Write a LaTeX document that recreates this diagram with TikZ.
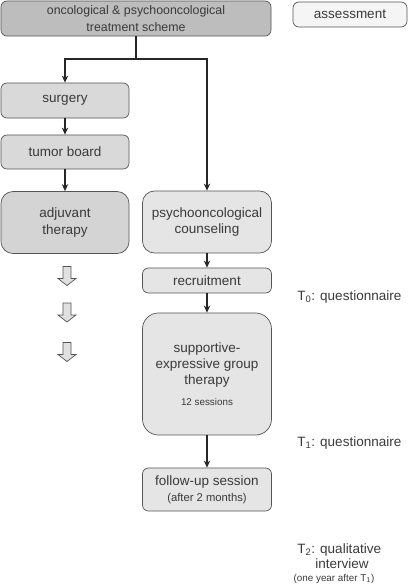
\documentclass[tikz,border=0pt]{standalone}
\usepackage{fontspec}
\setmainfont{Liberation Sans}
\usetikzlibrary{arrows.meta}
\definecolor{txt}{HTML}{3A3A3A}
\definecolor{edge}{HTML}{555555}
\tikzset{
  box/.style={draw=edge, line width=0.5pt, rounded corners=0.15cm, align=center,
    text=txt, font=\fontsize{9.6}{11.5}\selectfont, inner sep=0pt},
  flow/.style={-{Stealth[length=5pt,width=4.5pt]}, line width=0.9pt, draw=black!85},
  hollow/.pic={
    \draw[draw=edge, fill=black!12, line width=0.5pt]
      (-4,-9.5) -- (4,-9.5) -- (4,2.5) -- (9,2.5) -- (0,9.5) -- (-9,2.5) -- (-4,2.5) -- cycle;
  },
  tlabel/.style={anchor=west, text=txt, font=\fontsize{9.6}{11.5}\selectfont, inner sep=0pt}
}
\begin{document}
\begin{tikzpicture}[x=0.025cm, y=-0.025cm]
    \useasboundingbox (0,0) rectangle (408,586);

    % Cajas principales
    \node[box, fill=black!26, font=\fontsize{8.8}{11.5}\selectfont, minimum width=6.75cm, minimum height=0.875cm] (scheme) at (136,18.5)
        {oncological \& psychooncological\\treatment scheme};
    \node[box, fill=black!4, minimum width=2.85cm, minimum height=0.625cm] (assess) at (350,14.5) {assessment};

    % Rama izquierda
    \node[box, fill=black!15, minimum width=3.2cm, minimum height=0.875cm] (surgery) at (65,100.5) {surgery};
    \node[box, fill=black!15, minimum width=3.2cm, minimum height=0.85cm] (board) at (65,152) {tumor board};
    \node[box, fill=black!17, rounded corners=0.3cm, minimum width=3.2cm, minimum height=1.55cm] (adjuvant) at (65,222.5)
        {adjuvant\\therapy};

    % Rama derecha
    \node[box, fill=black!10, rounded corners=0.3cm, minimum width=3.225cm, minimum height=1.55cm] (counsel) at (207,222)
        {psychooncological\\counseling};
    \node[box, fill=black!10, minimum width=3.225cm, minimum height=0.625cm] (recruit) at (207,280.5) {recruitment};
    \node[box, fill=black!10, rounded corners=0.4cm, minimum width=3.225cm, minimum height=3.05cm] (group) at (207,374)
        {supportive-\\expressive group\\therapy\\[3pt]{\fontsize{7}{8}\selectfont 12 sessions}};
    \node[box, fill=black!10, minimum width=3.225cm, minimum height=1.075cm] (followup) at (207,489.5)
        {follow-up session\\{\fontsize{8}{10}\selectfont (after 2 months)}};

    % Flechas huecas
    \pic (h1) at (67,276) {hollow};
    \pic (h2) at (67,312.5) {hollow};
    \pic (h3) at (67,352) {hollow};

    % Conectores
    \coordinate (split) at (136,59);
    \draw[flow] (scheme.south) -- (split) -| (surgery.north);
    \draw[flow] (split) -| (counsel.north);
    \draw[flow] (surgery) -- (board);
    \draw[flow] (board) -- (adjuvant);
    \draw[flow] (counsel) -- (recruit);
    \draw[flow] (recruit) -- (group);
    \draw[flow] (group) -- (followup);

    % Momentos de evaluacion
    \node[tlabel] (t0) at (297,297) {T\textsubscript{0}: questionnaire};
    \node[tlabel] (t1) at (297,443) {T\textsubscript{1}: questionnaire};
    \node[tlabel] (t2) at (297,550) {T\textsubscript{2}: qualitative};
    \node[text=txt, font=\fontsize{9.6}{11.5}\selectfont, inner sep=0pt] (t2b) at (342,564) {interview};
    \node[text=txt, font=\fontsize{7}{8}\selectfont, inner sep=0pt] (t2c) at (334,579) {(one year after T\textsubscript{1})};
\end{tikzpicture}
\end{document}
